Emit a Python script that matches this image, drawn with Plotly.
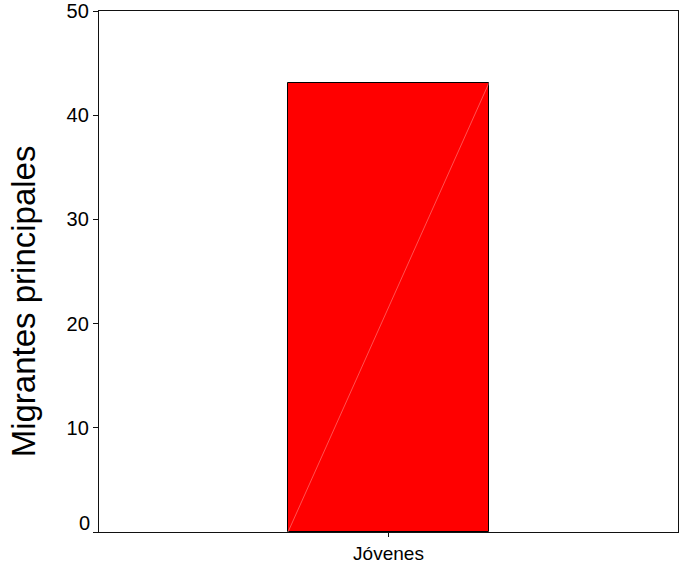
import plotly.graph_objects as go

categories = ["Jóvenes"]
values = [43.1]
y_ticks = [0, 10, 20, 30, 40, 50]
y_title = "Migrantes principales"

FONT = "Liberation Sans, Arial, sans-serif"
bar_width = 0.347
LINE = "#111111"

fig = go.Figure()
fig.add_trace(go.Bar(
    x=categories, y=values, width=bar_width,
    marker=dict(color="#FF0000", line=dict(color="black", width=1)),
    hoverinfo="skip",
))

# faint diagonal rendering artifact across the bar, derived from the bar itself
fig.add_shape(type="line", xref="x", yref="y",
              x0=-bar_width / 2, y0=0, x1=bar_width / 2, y1=values[0],
              line=dict(color="rgba(255,170,170,0.8)", width=0.6))

fig.update_layout(
    width=682, height=565,
    margin=dict(l=99, r=4, t=11, b=33, autoexpand=False),
    paper_bgcolor="white", plot_bgcolor="white",
    showlegend=False,
    font=dict(family=FONT, color="black"),
    bargap=0,
)
fig.update_xaxes(
    type="category", range=[-0.5, 0.5], automargin=False,
    showline=True, linecolor=LINE, linewidth=1.3, mirror=True,
    ticks="outside", ticklen=4, tickcolor=LINE, tickwidth=1,
    tickfont=dict(size=19, family=FONT, color="black"),
    showgrid=False, zeroline=False,
)
fig.update_yaxes(
    range=[0, 50], automargin=False,
    tickvals=y_ticks,
    ticktext=["" if v == 0 else str(v) for v in y_ticks],
    showline=True, linecolor=LINE, linewidth=1.3, mirror=True,
    ticks="outside", ticklen=5, tickcolor=LINE, tickwidth=1,
    tickfont=dict(size=20, family=FONT, color="black"),
    showgrid=False, zeroline=False,
)
# zero label sits slightly above its tick in the reference
fig.add_annotation(text=str(y_ticks[0]), xref="paper", yref="y", x=0, y=y_ticks[0],
                   xanchor="right", yanchor="middle", xshift=-7, yshift=9,
                   showarrow=False, font=dict(size=20, family=FONT, color="black"))
fig.add_annotation(text=y_title, xref="paper", yref="paper", x=-0.131, y=0.443,
                   xanchor="center", yanchor="middle", textangle=-90,
                   showarrow=False, font=dict(size=33, family=FONT, color="black"))

fig.write_html(
    "out.html",
    config={"responsive": False, "displayModeBar": False},
    post_script="document.body.style.margin='0';document.body.style.padding='0';"
                "document.body.style.overflow='hidden';",
)
